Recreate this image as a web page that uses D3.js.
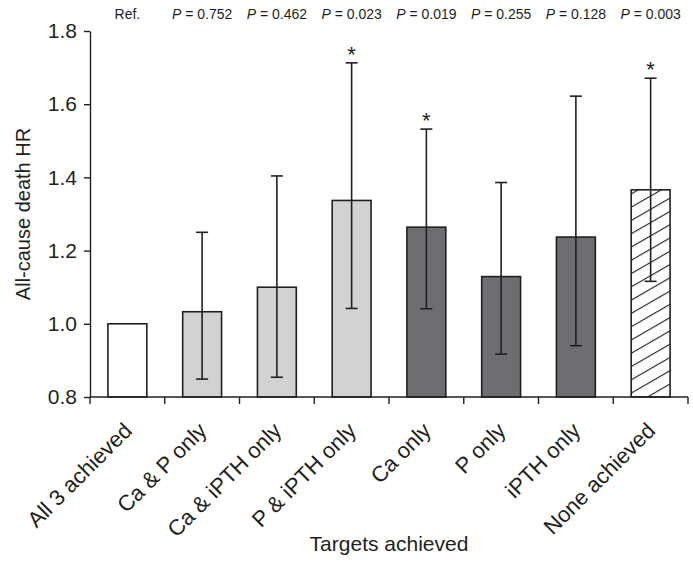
<!DOCTYPE html>
<html>
<head>
<meta charset="utf-8">
<script src="https://cdn.jsdelivr.net/npm/d3@7"></script>
<style>
  body { margin: 0; background: #fff; }
  text { font-family: "Liberation Sans", Arial, sans-serif; fill: #231f20; }
</style>
</head>
<body>
<div id="chart"></div>
<script>
var categories = ["All 3 achieved", "Ca & P only", "Ca & iPTH only", "P & iPTH only",
                  "Ca only", "P only", "iPTH only", "None achieved"];
var hr = [1.0, 1.033, 1.10, 1.337, 1.264, 1.129, 1.237, 1.366];
var lower = [null, 0.849, 0.854, 1.042, 1.041, 0.917, 0.940, 1.116];
var upper = [null, 1.250, 1.404, 1.713, 1.532, 1.386, 1.622, 1.671];
var groups = ["ref", "two", "two", "two", "one", "one", "one", "none"];
var pLabels = ["Ref.", "0.752", "0.462", "0.023", "0.019", "0.255", "0.128", "0.003"];
var significant = [false, false, false, true, true, false, false, true];
var yTicks = [0.8, 1.0, 1.2, 1.4, 1.6, 1.8];

var width = 693, height = 563;
var mLeft = 90, mRight = 688, mTop = 31, mBottom = 397;
var ink = "#231f20";

var fills = { ref: "#ffffff", two: "#d1d2d4", one: "#6d6e71", none: "url(#hatch)" };

var svg = d3.select("#chart").append("svg")
  .attr("width", width)
  .attr("height", height);

// hatch for the "none achieved" bar
var pat = svg.append("defs").append("pattern")
  .attr("id", "hatch")
  .attr("patternUnits", "userSpaceOnUse")
  .attr("width", 12)
  .attr("height", 11.5)
  .attr("patternTransform", "rotate(-30)");
pat.append("rect").attr("width", 12).attr("height", 11.5).attr("fill", "#fff");
pat.append("line")
  .attr("x1", 0).attr("x2", 12)
  .attr("y1", 0).attr("y2", 0)
  .attr("stroke", ink).attr("stroke-width", 2.2);

var x = d3.scaleBand()
  .domain(categories)
  .range([mLeft, mRight])
  .paddingInner(0.48)
  .paddingOuter(0.24);

var y = d3.scaleLinear()
  .domain([0.8, 1.8])
  .range([mBottom, mTop]);

// bars
svg.append("g").selectAll("rect")
  .data(categories)
  .enter().append("rect")
    .attr("x", function(d) { return x(d); })
    .attr("y", function(d, i) { return y(hr[i]); })
    .attr("width", x.bandwidth())
    .attr("height", function(d, i) { return y(0.8) - y(hr[i]); })
    .attr("fill", function(d, i) { return fills[groups[i]]; })
    .attr("stroke", ink)
    .attr("stroke-width", 1.6);

// error bars
var cap = 6;
var eb = svg.append("g").attr("stroke", ink).attr("stroke-width", 1.6);
categories.forEach(function(c, i) {
  if (lower[i] == null) return;
  var cx = x(c) + x.bandwidth() / 2;
  eb.append("line").attr("x1", cx).attr("x2", cx)
    .attr("y1", y(lower[i])).attr("y2", y(upper[i]));
  eb.append("line").attr("x1", cx - cap).attr("x2", cx + cap)
    .attr("y1", y(lower[i])).attr("y2", y(lower[i]));
  eb.append("line").attr("x1", cx - cap).attr("x2", cx + cap)
    .attr("y1", y(upper[i])).attr("y2", y(upper[i]));
  if (significant[i]) {
    svg.append("text")
      .attr("x", cx).attr("y", y(upper[i]) - 1)
      .attr("text-anchor", "middle")
      .style("font-size", "22px")
      .text("*");
  }
});

// y axis
var yAxis = svg.append("g")
  .attr("transform", "translate(" + mLeft + ",0)")
  .call(d3.axisLeft(y).tickValues(yTicks).tickFormat(d3.format(".1f"))
    .tickSize(6).tickSizeOuter(0).tickPadding(7));
yAxis.select(".domain").attr("stroke", ink).attr("stroke-width", 1.4);
yAxis.selectAll(".tick line").attr("stroke", ink).attr("stroke-width", 1.4);
yAxis.selectAll(".tick text")
  .style("font-size", "21px")
  .attr("fill", ink)
  .attr("font-family", "Liberation Sans, Arial, sans-serif");

// x axis: ticks on band edges
var xg = svg.append("g");
xg.append("line")
  .attr("x1", mLeft).attr("x2", mRight)
  .attr("y1", mBottom).attr("y2", mBottom)
  .attr("stroke", ink).attr("stroke-width", 1.4);
var step = x.step();
xg.selectAll("line.tk")
  .data(d3.range(categories.length + 1))
  .enter().append("line")
    .attr("class", "tk")
    .attr("x1", function(i) { return mLeft + i * step; })
    .attr("x2", function(i) { return mLeft + i * step; })
    .attr("y1", mBottom).attr("y2", mBottom + 7)
    .attr("stroke", ink).attr("stroke-width", 1.4);

xg.selectAll("text.cat")
  .data(categories)
  .enter().append("text")
    .attr("class", "cat")
    .attr("text-anchor", "end")
    .attr("transform", function(d) {
      return "translate(" + (x(d) + x.bandwidth() / 2 + 6) + "," + (mBottom + 35) + ") rotate(-45)";
    })
    .style("font-size", "22px")
    .text(function(d) { return d; });

// p-values row
var pRow = svg.append("g");
pLabels.forEach(function(p, i) {
  var t = pRow.append("text")
    .attr("x", x(categories[i]) + x.bandwidth() / 2)
    .attr("y", 19)
    .attr("text-anchor", "middle")
    .style("font-size", "14px");
  if (i === 0) { t.text(p); return; }
  t.append("tspan").style("font-style", "italic").text("P");
  t.append("tspan").text(" = " + p);
});

// axis titles
svg.append("text")
  .attr("transform", "translate(30," + ((mTop + mBottom) / 2) + ") rotate(-90)")
  .attr("text-anchor", "middle")
  .style("font-size", "20px")
  .text("All-cause death HR");

svg.append("text")
  .attr("x", (mLeft + mRight) / 2)
  .attr("y", 551)
  .attr("text-anchor", "middle")
  .style("font-size", "21px")
  .text("Targets achieved");
</script>
</body>
</html>
